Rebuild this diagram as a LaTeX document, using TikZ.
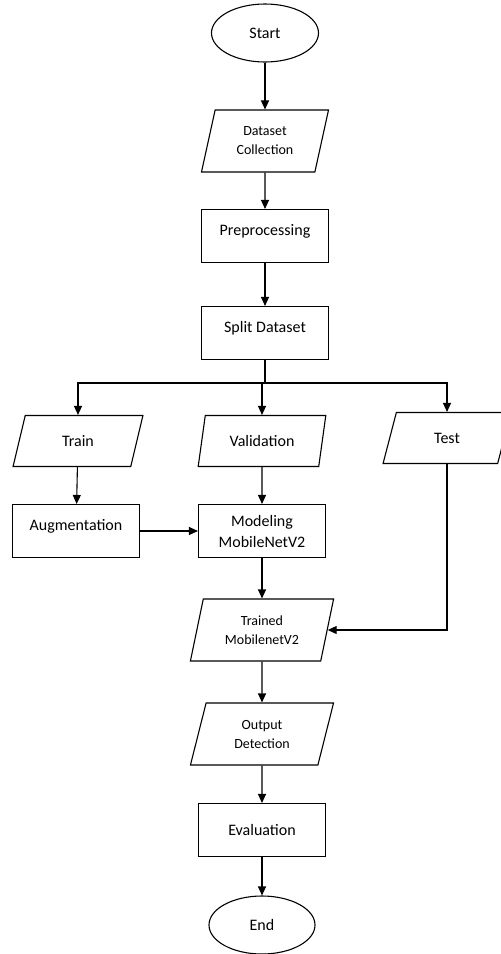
\documentclass[tikz,border=0pt]{standalone}
\usepackage{fontspec}
\setmainfont{Carlito}
\usetikzlibrary{arrows.meta,shapes.geometric}

\tikzset{
	procbox/.style={draw, rectangle, minimum width=127pt, minimum height=53pt, align=center},
	iobox/.style={draw, trapezium, trapezium left angle=76, trapezium right angle=104,
		trapezium stretches=true, minimum width=128pt, minimum height=62pt, align=center},
	termbox/.style={draw, ellipse, minimum width=107pt, minimum height=58pt},
	small/.style={font=\fontsize{14}{19}\selectfont},
	raised/.style={text depth=13pt},
}

\begin{document}
\begin{tikzpicture}[x=1pt, y=-1pt, line width=1.1pt, >={Triangle[length=9pt,width=8pt]},
	every node/.style={font=\fontsize{16}{21}\selectfont}]
	\useasboundingbox (0,0) rectangle (501,954);
	% main column
	\node[termbox] (start) at (265,33) {Start};
	\node[iobox, small] (collect) at (265,141) {Dataset\\Collection};
	\node[procbox, raised] (prep) at (265,236) {Preprocessing};
	\node[procbox, raised] (split) at (265,333) {Split Dataset};
	\coordinate (fork) at (265,383);
	% three subsets
	\node[iobox, minimum height=51pt, minimum width=130pt] (train) at (78,441) {Train};
	\node[iobox, minimum height=51pt] (valid) at (262,441) {Validation};
	\node[iobox, minimum height=51pt] (test) at (447,438) {Test};
	\node[procbox, raised] (augment) at (76,531) {Augmentation};
	\node[procbox] (model) at (262,531) {Modeling\\MobileNetV2};
	\node[iobox, small, minimum width=144pt] (trained) at (262,630) {Trained\\MobilenetV2};
	\node[iobox, small, minimum width=144pt] (output) at (262,734) {Output\\Detection};
	\node[procbox] (eval) at (262,830) {Evaluation};
	\node[termbox, minimum width=106pt] (stop) at (262,925) {End};

	\draw[->] (start) -- (collect);
	\draw[->] (collect) -- (prep);
	\draw[->] (prep) -- (split);
	\draw (split) -- (fork);
	\draw[->] (fork) -| (train);
	\draw[->] (fork) -| (valid);
	\draw[->] (fork) -| (test);
	\draw[->] (train) -- (augment);
	\draw[->] (valid) -- (model);
	\draw[->] (augment) -- (model);
	\draw[->] (model) -- (trained);
	\draw[->] (test.south) |- (trained.east);
	\draw[->] (trained) -- (output);
	\draw[->] (output) -- (eval);
	\draw[->] (eval) -- (stop);
\end{tikzpicture}
\end{document}
